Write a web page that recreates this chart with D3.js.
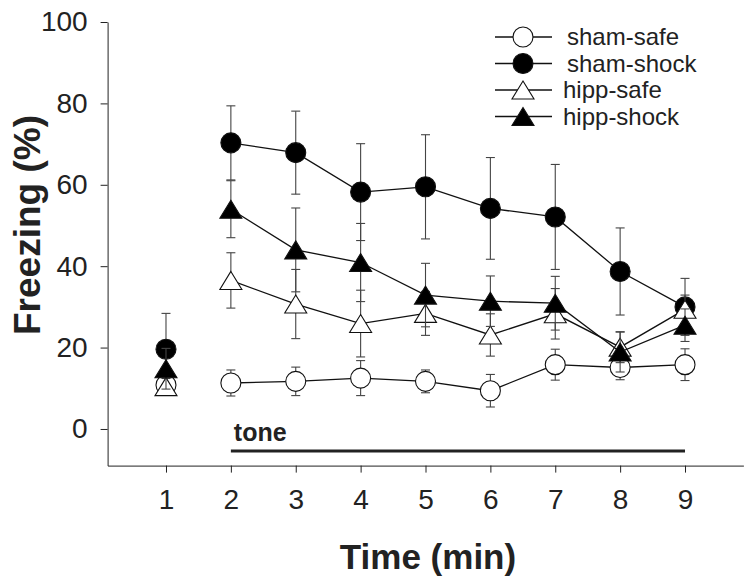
<!DOCTYPE html>
<html>
<head>
<meta charset="utf-8">
<script src="https://cdn.jsdelivr.net/npm/d3@7"></script>
<style>
  html, body { margin: 0; padding: 0; background: #fff; }
  svg { display: block; font-family: "Liberation Sans", Arial, Helvetica, sans-serif; }
</style>
</head>
<body>
<svg id="chart" width="752" height="581"></svg>
<script>
// ---- data ----
const minutes = [1, 2, 3, 4, 5, 6, 7, 8, 9];
const yTicks = [0, 20, 40, 60, 80, 100];
const seriesNames = ["sham-safe", "sham-shock", "hipp-safe", "hipp-shock"];
const shamSafe = [10.8, 11.3, 11.7, 12.5, 11.7, 9.4, 15.8, 15.1, 15.8];
const shamSafeSE = [2.5, 3.2, 3.5, 4.3, 2.8, 4.0, 3.8, 3.0, 3.9];
const shamShock = [19.6, 70.3, 67.9, 58.2, 59.5, 54.2, 52.1, 38.7, 30.0];
const shamShockSE = [8.8, 9.1, 10.2, 11.9, 12.8, 12.5, 12.9, 10.7, 7.0];
const hippSafe = [10.4, 36.5, 30.7, 25.9, 28.4, 23.1, 28.3, 20.1, 29.4];
const hippSafeSE = [2.0, 6.8, 8.5, 8.2, 5.4, 5.2, 6.2, 3.8, 3.5];
const hippShock = [14.8, 54.0, 44.0, 40.9, 32.9, 31.4, 30.9, 18.9, 25.5];
const hippShockSE = [5.0, 7.0, 10.3, 9.6, 7.8, 6.2, 6.6, 4.9, 4.0];
const toneStart = 2, toneEnd = 9;

const series = [
  { name: seriesNames[0], values: shamSafe, se: shamSafeSE, shape: "circle", fill: "#fff" },
  { name: seriesNames[1], values: shamShock, se: shamShockSE, shape: "circle", fill: "#000" },
  { name: seriesNames[2], values: hippSafe, se: hippSafeSE, shape: "triangle", fill: "#fff" },
  { name: seriesNames[3], values: hippShock, se: hippShockSE, shape: "triangle", fill: "#000" }
];

const svg = d3.select("#chart");
const x = d3.scaleLinear().domain([0.1, 9.9]).range([107.6, 743.4]);
const y = d3.scaleLinear().domain([-9, 100]).range([465.6, 22]);

function markerPath(shape) {
  if (shape === "circle") {
    const r = 10;
    return `M${-r},0A${r},${r} 0 1,0 ${r},0A${r},${r} 0 1,0 ${-r},0Z`;
  }
  return "M0,-9L11,9L-11,9Z";
}

// axes
const yAxis = d3.axisLeft(y).tickValues(yTicks).tickSize(7).tickSizeOuter(0).tickPadding(13);
const gy = svg.append("g").attr("transform", `translate(${x(0.1)},0)`).call(yAxis);
gy.selectAll("text").attr("font-size", 28).attr("fill", "#222").style("font-family", "inherit");
gy.selectAll("line,path").attr("stroke", "#222");

const xAxis = d3.axisBottom(x).tickValues(minutes).tickSize(7).tickSizeOuter(0).tickPadding(17);
const gx = svg.append("g").attr("transform", `translate(0,${y(-9)})`).call(xAxis);
gx.selectAll("text").attr("font-size", 28).attr("fill", "#222").style("font-family", "inherit");
gx.selectAll("line,path").attr("stroke", "#222");

// axis titles
svg.append("text").attr("x", 428).attr("y", 569).attr("text-anchor", "middle")
  .attr("font-size", 35).attr("font-weight", "bold").attr("fill", "#222").text("Time (min)");
svg.append("text").attr("transform", "translate(40,225) rotate(-90)").attr("text-anchor", "middle")
  .attr("font-size", 37).attr("font-weight", "bold").attr("fill", "#222").text("Freezing (%)");

// tone bar
svg.append("line").attr("x1", x(toneStart)).attr("x2", x(toneEnd)).attr("y1", 451).attr("y2", 451)
  .attr("stroke", "#222").attr("stroke-width", 3);
svg.append("text").attr("x", x(toneStart) + 3).attr("y", 441).attr("font-size", 25)
  .attr("font-weight", "bold").attr("fill", "#222").text("tone");

// series
const line = d3.line().x(d => x(d.m)).y(d => y(d.v));
series.forEach(s => {
  const pts = minutes.map((m, i) => ({ m, v: s.values[i], e: s.se[i] }));
  const g = svg.append("g");
  // connecting line (minute 1 is separate)
  g.append("path").attr("d", line(pts.slice(1))).attr("fill", "none")
    .attr("stroke", "#111").attr("stroke-width", 1.3);
  // error bars
  const eb = g.selectAll(".eb").data(pts).enter().append("g");
  eb.append("line").attr("x1", d => x(d.m)).attr("x2", d => x(d.m))
    .attr("y1", d => y(d.v - d.e)).attr("y2", d => y(d.v + d.e))
    .attr("stroke", "#444").attr("stroke-width", 1.1);
  [-1, 1].forEach(sg => {
    eb.append("line").attr("x1", d => x(d.m) - 4.5).attr("x2", d => x(d.m) + 4.5)
      .attr("y1", d => y(d.v + sg * d.e)).attr("y2", d => y(d.v + sg * d.e))
      .attr("stroke", "#444").attr("stroke-width", 1.1);
  });
  // markers
  g.selectAll(".mk").data(pts).enter().append("path")
    .attr("transform", d => `translate(${x(d.m)},${y(d.v)})`)
    .attr("d", markerPath(s.shape)).attr("fill", s.fill)
    .attr("stroke", "#111").attr("stroke-width", 1.1);
});

// legend
const legY = [37, 63.5, 90, 116.5];
series.forEach((s, i) => {
  const g = svg.append("g").attr("transform", `translate(0,${legY[i]})`);
  g.append("line").attr("x1", 495).attr("x2", 552).attr("y1", 0).attr("y2", 0)
    .attr("stroke", "#111").attr("stroke-width", 1.3);
  g.append("path").attr("transform", "translate(523,0)").attr("d", markerPath(s.shape))
    .attr("fill", s.fill).attr("stroke", "#111").attr("stroke-width", 1.1);
  g.append("text").attr("x", s.shape === "circle" ? 567 : 563).attr("y", 0).attr("dy", "0.35em")
    .attr("font-size", 24).attr("fill", "#222").text(s.name);
});
</script>
</body>
</html>
